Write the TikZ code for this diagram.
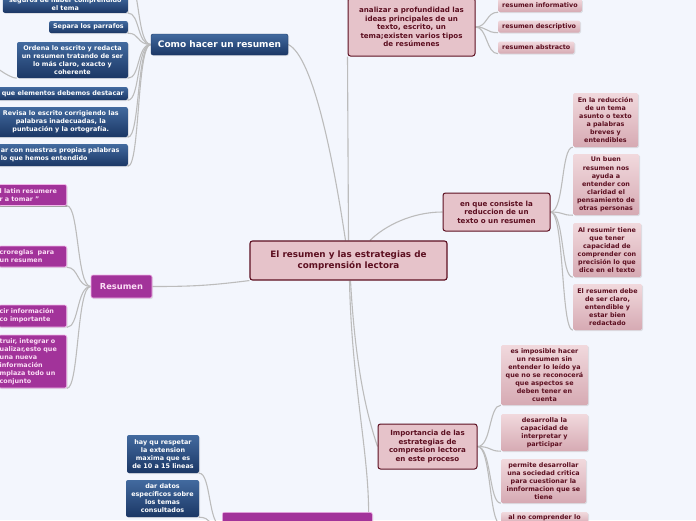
\documentclass[tikz,border=0pt]{standalone}
\usepackage{fontspec}
\setmainfont{DejaVu Sans}
\usetikzlibrary{shadows}
\usetikzlibrary{backgrounds}

\definecolor{fondo}{HTML}{F3F6FD}
\definecolor{linea}{HTML}{BCBCBC}
\definecolor{vino}{HTML}{5C0F20}
\definecolor{rosa}{HTML}{E6C3CA}
\definecolor{rosaclaro}{HTML}{F1D9DD}
\definecolor{rosaosc}{HTML}{D6AAB3}
\definecolor{azulclaro}{HTML}{426A9F}
\definecolor{azulosc}{HTML}{1B3765}
\definecolor{purpura}{HTML}{A2339A}
\definecolor{purpborde}{HTML}{F2B6EA}
\definecolor{purptexto}{HTML}{FBDDF5}

\begin{document}
\begin{tikzpicture}[x=1pt,y=-1pt,
  link/.style={draw=linea,line width=1.1pt},
  central/.style={draw=vino,line width=1.1pt,fill=rosa,text=vino,rounded corners=2.5pt,
    align=center,inner sep=2pt,font=\fontsize{8.8}{11.3}\selectfont\bfseries},
  tema/.style={central,line width=1pt,font=\fontsize{7.1}{8.4}\selectfont\bfseries},
  subtema/.style={top color=rosaclaro,bottom color=rosaosc,text=vino,rounded corners=1.5pt,
    align=center,inner xsep=4pt,inner ysep=2pt,font=\fontsize{6.4}{8.1}\selectfont\bfseries,
    drop shadow={shadow xshift=1pt,shadow yshift=-1pt,opacity=.2}},
  azul/.style={top color=azulclaro,bottom color=azulosc,text=white,rounded corners=2pt,
    align=center,inner xsep=4pt,inner ysep=2pt,font=\fontsize{6.4}{8}\selectfont\bfseries,
    drop shadow={shadow xshift=1pt,shadow yshift=-1pt,opacity=.2}},
  morado/.style={fill=purpura,draw=purpborde,line width=.6pt,text=purptexto,rounded corners=2pt,
    align=left,inner xsep=1pt,inner ysep=2pt,font=\fontsize{6.4}{8}\selectfont\bfseries,
    drop shadow={shadow xshift=1pt,shadow yshift=-1pt,opacity=.2}}]

\useasboundingbox (0,0) rectangle (696,520);

% tema central
\node[central,minimum width=197pt,minimum height=39pt] (central) at (348.5,260.5)
  {El resumen y las estrategias de\\comprensión lectora};

% arriba
\node[tema,minimum width=127pt,minimum height=58pt] (analiza) at (411.5,27)
  {analizar a profundidad las\\ideas principales de un\\texto, escrito, un\\tema;existen varios tipos\\de resúmenes};
\node[subtema,anchor=west,minimum height=13pt] (tipoinf) at (498,5.5) {resumen informativo};
\node[subtema,anchor=west,minimum height=12pt] (tipodes) at (498,26.5) {resumen descriptivo};
\node[subtema,anchor=west,minimum height=12pt] (tipoabs) at (498,47.5) {resumen abstracto};

% derecha
\node[tema,minimum width=107pt,minimum height=38pt] (consiste) at (496.5,212)
  {en que consiste la\\reduccion de un\\texto o un resumen};
\node[subtema,minimum width=65pt,minimum height=54pt] (cons1) at (605.5,120)
  {En la reducción\\de un tema\\asunto o texto\\a palabras\\breves y\\entendibles};
\node[subtema,minimum width=66pt,minimum height=61pt] (cons2) at (606,184.5)
  {Un buen\\resumen nos\\ayuda a\\entender con\\claridad el\\pensamiento de\\otras personas};
\node[subtema,minimum width=68pt,minimum height=54pt] (cons3) at (607,250)
  {Al resumir tiene\\que tener\\capacidad de\\comprender con\\precisión lo que\\dice en el texto};
\node[subtema,minimum width=69pt,minimum height=46pt] (cons4) at (607.5,307)
  {El resumen debe\\de ser claro,\\entendible y\\estar bien\\redactado};

\node[tema,minimum width=99pt,minimum height=45pt] (importa) at (427.5,446.5)
  {Importancia de las\\estrategias de\\compresion lectora\\en este proceso};
\node[subtema,minimum width=87pt,minimum height=60pt] (imp1) at (544.5,375)
  {es imposible hacer\\un resumen sin\\entender lo leído ya\\que no se reconocerá\\que aspectos se\\deben tener en\\cuenta};
\node[subtema,minimum width=87pt,minimum height=37pt] (imp2) at (544.5,432.5)
  {desarrolla la\\capacidad de\\interpretar y\\participar};
\node[subtema,minimum width=85pt,minimum height=44pt] (imp3) at (543.5,481)
  {permite desarrollar\\una sociedad critica\\para cuestionar la\\innformacion que se\\tiene};
\node[subtema,anchor=north,minimum width=87pt,minimum height=12pt] (imp4) at (544.5,512)
  {al no comprender lo};

% izquierda
\node[azul,draw=azulosc,font=\fontsize{9}{11}\selectfont\bfseries,minimum width=137pt,minimum height=21pt]
  (comohacer) at (219.5,44.5) {Como hacer un resumen};
\node[azul,anchor=south east,minimum width=125pt] (paso0) at (128,13)
  {seguros de haber comprendido\\el tema};
\node[azul,anchor=east,minimum height=12pt] (paso1) at (128,27) {Separa los parrafos};
\node[azul,minimum width=111pt,minimum height=36pt] (paso2) at (72.5,60)
  {Ordena lo escrito y redacta\\un resumen tratando de ser\\lo más claro, exacto y\\coherente};
\node[azul,anchor=east,minimum height=13pt] (paso3) at (128,93.5) {que elementos debemos destacar};
\node[azul,anchor=east,minimum width=134pt,minimum height=30pt] (paso4) at (128,122)
  {Revisa lo escrito corrigiendo las\\palabras inadecuadas, la\\puntuación y la ortografía.};
\node[azul,anchor=east,text width=124pt,align=left,inner xsep=3pt,minimum height=22pt] (paso5) at (128,155)
  {ar con nuestras propias palabras\\lo que hemos entendido};

\node[morado,align=center,inner xsep=3pt,font=\fontsize{8.3}{10}\selectfont\bfseries,
  minimum width=61pt,minimum height=23pt] (resumen) at (121.5,286.5) {Resumen};
\node[morado,anchor=east,text width=66pt,minimum height=21pt] (res1) at (67,195)
  {l latin resumere\\r a tomar "};
\node[morado,anchor=east,text width=66pt,minimum height=21pt] (res2) at (67,256.5)
  {croreglas\ \ para\\un resumen};
\node[morado,anchor=east,text width=66pt,minimum height=22pt] (res3) at (67,316)
  {cir información\\co importante};
\node[morado,anchor=east,text width=66pt,minimum height=53pt] (res4) at (67,361.5)
  {truir, integrar o\\ualizar,esto que\\una nueva\\información\\mplaza todo un\\conjunto};

% abajo
\node[morado,anchor=north west,minimum width=150pt,minimum height=28pt] (abajo) at (222,512) {};
\node[azul,minimum width=72pt,minimum height=38pt] (regla1) at (163,454)
  {hay qu respetar\\la extension\\maxima que es\\de 10 a 15 lineas};
\node[azul,minimum width=73pt,minimum height=37pt] (regla2) at (162.5,498.5)
  {dar datos\\específicos sobre\\los temas\\consultados};

\coordinate (pasoarriba) at (128,-20);
\coordinate (ordenahijo) at (-15,58);
\coordinate (latinhijo) at (-12,206);

\begin{scope}[on background layer]
\fill[fondo] (0,0) rectangle (696,520);
\draw[link] (central.north) -- (analiza.south west);
\draw[link] ([xshift=-3pt]central.north) .. controls +(-12,-80) and +(25,12) .. (comohacer.east);
\draw[link] ([xshift=21.5pt]central.north) .. controls +(15,-15) and +(-30,0) .. (consiste.west);
\draw[link] ([xshift=2pt]central.south) .. controls +(5,90) and +(-10,-30) .. (importa.west);
\draw[link] ([xshift=1pt]central.south) .. controls +(2,100) and +(0,-60) .. ([xshift=-4pt]abajo.north east);
\draw[link] (resumen.east) .. controls +(40,0) and +(-40,5) .. (central.south west);

\foreach \n in {tipoinf,tipodes,tipoabs}
  \draw[link] (analiza.east) .. controls +(12,0) and +(-12,0) .. (\n.south west);
\foreach \n in {cons1,cons2,cons3,cons4}
  \draw[link] (consiste.east) .. controls +(14,0) and +(-12,0) .. (\n.south west);
\foreach \n in {imp1,imp2,imp3,imp4}
  \draw[link] (importa.east) .. controls +(14,0) and +(-12,0) .. (\n.south west);
\foreach \n in {paso0,paso1,paso2,paso3,paso4,paso5,pasoarriba}
  \draw[link] (comohacer.west) .. controls +(-14,0) and +(12,0) .. (\n.south east);
\foreach \n in {res1,res2,res3,res4}
  \draw[link] (resumen.west) .. controls +(-14,0) and +(12,0) .. (\n.south east);
\foreach \n in {regla1,regla2}
  \draw[link] (abajo.west) .. controls +(-14,0) and +(12,0) .. (\n.south east);
\draw[link] (paso2.south west) .. controls +(-8,0) and +(6,6) .. (ordenahijo);
\draw[link,line width=2pt,draw=linea!90!black] (res1.south east) -- (latinhijo);
\end{scope}
\end{tikzpicture}
\end{document}
